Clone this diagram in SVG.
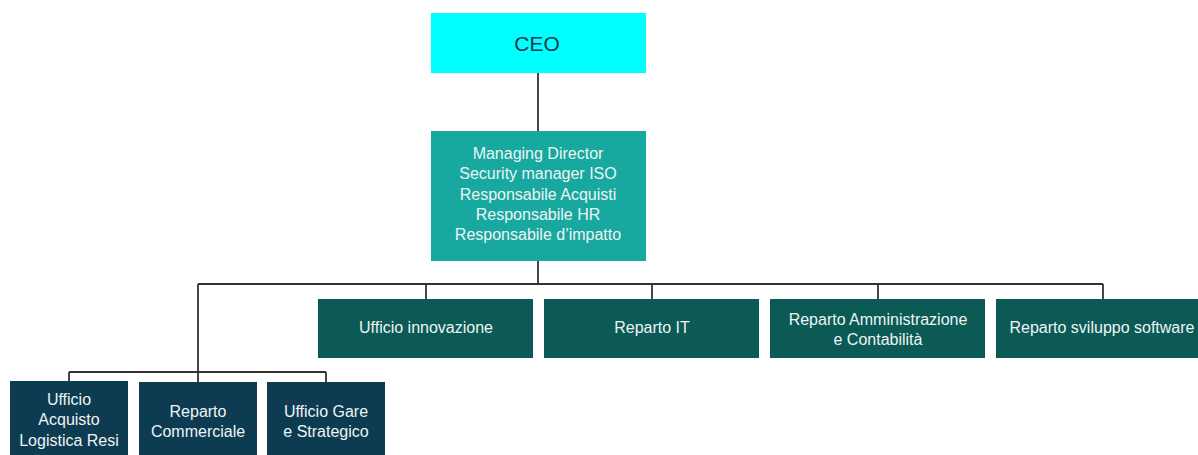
<svg xmlns="http://www.w3.org/2000/svg" width="1198" height="455" viewBox="0 0 1198 455">
<style>
.t{font-family:"Liberation Sans",Arial,sans-serif;font-size:16px;fill:#EEF4F4;text-anchor:middle}
.c{fill:none;stroke:#333;stroke-width:1.8}
.mid{fill:#0B5A55}
.low{fill:#0D3B52}
</style>
<rect width="1198" height="455" fill="#fff"/>
<g id="connectors">
<path class="c" d="M538,73V131"/>
<path class="c" d="M538,261V284"/>
<path class="c" d="M198,284H1103"/>
<path class="c" d="M426,284V299M652,284V299M878,284V299M1103,284V299"/>
<path class="c" d="M198,284V372"/>
<path class="c" d="M69,372H326"/>
<path class="c" d="M69,372V381M198,372V382M326,372V382"/>
</g>
<g id="ceo">
<rect x="431" y="13" width="215" height="60" fill="#00FFFF"/>
<text x="537" y="50.5" style="font-family:'Liberation Sans',Arial,sans-serif;font-size:21px;fill:#1B3A4B;text-anchor:middle">CEO</text>
</g>
<g id="md">
<rect x="431" y="131" width="215" height="130" fill="#17A89F"/>
<text class="t"><tspan x="538" y="159">Managing Director</tspan><tspan x="538" y="179">Security manager ISO</tspan><tspan x="538" y="199.5">Responsabile Acquisti</tspan><tspan x="538" y="219.5">Responsabile HR</tspan><tspan x="538" y="240">Responsabile d’impatto</tspan></text>
</g>
<g id="innovazione">
<rect class="mid" x="318" y="299" width="215" height="59"/>
<text class="t" x="426" y="333">Ufficio innovazione</text>
</g>
<g id="it">
<rect class="mid" x="544" y="299" width="215" height="59"/>
<text class="t" x="652" y="333">Reparto IT</text>
</g>
<g id="amministrazione">
<rect class="mid" x="770" y="299" width="215" height="59"/>
<text class="t"><tspan x="878" y="325">Reparto Amministrazione</tspan><tspan x="878" y="345">e Contabilità</tspan></text>
</g>
<g id="sviluppo">
<rect class="mid" x="996" y="299" width="215" height="59"/>
<text class="t" x="1102" y="333">Reparto sviluppo software</text>
</g>
<g id="acquisto">
<rect class="low" x="10" y="381" width="118" height="80"/>
<text class="t"><tspan x="69" y="405">Ufficio</tspan><tspan x="69" y="425">Acquisto</tspan><tspan x="69" y="446">Logistica Resi</tspan></text>
</g>
<g id="commerciale">
<rect class="low" x="139" y="382" width="118" height="80"/>
<text class="t"><tspan x="198" y="417">Reparto</tspan><tspan x="198" y="437">Commerciale</tspan></text>
</g>
<g id="gare">
<rect class="low" x="267" y="382" width="118" height="80"/>
<text class="t"><tspan x="326" y="417">Ufficio Gare</tspan><tspan x="326" y="437">e Strategico</tspan></text>
</g>
</svg>
